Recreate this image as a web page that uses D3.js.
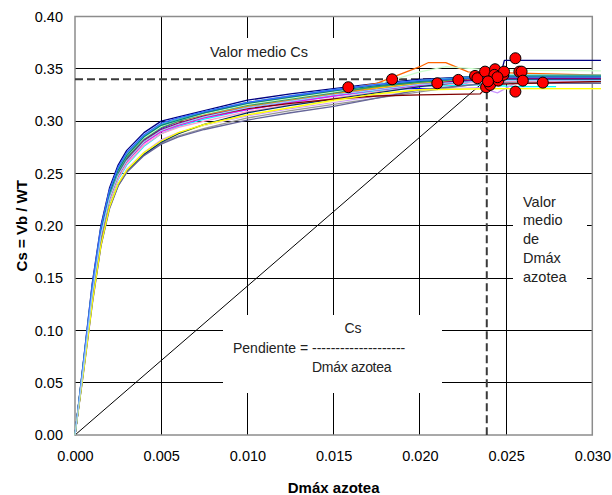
<!DOCTYPE html>
<html>
<head>
<meta charset="utf-8">
<script src="https://cdn.jsdelivr.net/npm/d3@7"></script>
<style>
  html, body { margin: 0; padding: 0; background: #fff; }
  svg { display: block; font-family: Arial, "Liberation Sans", sans-serif; }
</style>
</head>
<body>
<svg id="chart" width="612" height="495"></svg>
<script>
// ---------------- DATA ----------------
const xTicks = [0, 0.005, 0.010, 0.015, 0.020, 0.025, 0.030];
const yTicks = [0, 0.05, 0.10, 0.15, 0.20, 0.25, 0.30, 0.35, 0.40];

// shared Dmáx grid for the curve values
const dmaxGrid = [0, 0.0005, 0.001, 0.0015, 0.002, 0.0025, 0.003, 0.004, 0.005, 0.006, 0.0075, 0.010, 0.0125, 0.015, 0.0175, 0.020];

// Cs values of each curve on dmaxGrid, then its end points (tailD / tailC)
const curveColors = ["#000080","#0000FF","#FF6600","#FF9900","#FFCC00","#99CC00","#33CCCC","#00FFFF","#FF00FF","#FF99CC","#CC99FF","#FFFF99","#969696","#003366","#666699","#800000","#800080","#339966","#CCFFCC","#008080","#3366FF","#FFFF00","#99CCFF"];
const curveCs = [
  [0,.072,.145,.200,.236,.258,.272,.289,.300,.304,.310,.320,.326,.331,.336,.340],
  [0,.068,.138,.192,.228,.250,.264,.282,.293,.300,.307,.316,.322,.327,.331,.331],
  [0,.070,.140,.195,.232,.254,.268,.285,.296,.302,.308,.317,.323,.329,.336,.352],
  [0,.069,.139,.193,.230,.252,.266,.283,.294,.300,.306,.314,.320,.326,.332,.337],
  [0,.066,.135,.190,.226,.248,.262,.280,.291,.298,.305,.313,.319,.325,.331,.336],
  [0,.067,.136,.190,.227,.250,.265,.284,.295,.301,.308,.316,.322,.328,.333,.338],
  [0,.071,.142,.197,.233,.255,.269,.286,.297,.302,.309,.318,.324,.330,.335,.339],
  [0,.064,.130,.185,.222,.244,.258,.276,.288,.295,.302,.311,.318,.324,.329,.333],
  [0,.066,.134,.188,.225,.247,.261,.279,.290,.296,.303,.311,.318,.324,.330,.334],
  [0,.065,.132,.186,.223,.245,.259,.277,.288,.294,.300,.309,.316,.322,.328,.333],
  [0,.060,.124,.180,.218,.240,.254,.270,.282,.289,.296,.305,.312,.318,.324,.330],
  [0,.062,.127,.182,.219,.240,.253,.269,.280,.288,.296,.306,.313,.319,.325,.330],
  [0,.061,.125,.180,.216,.238,.251,.268,.279,.286,.293,.303,.310,.316,.322,.328],
  [0,.063,.128,.182,.218,.239,.252,.268,.280,.288,.297,.308,.315,.321,.327,.333],
  [0,.062,.126,.181,.217,.238,.251,.267,.278,.285,.292,.301,.308,.314,.322,.330],
  [0,.066,.134,.189,.226,.248,.262,.280,.291,.297,.304,.312,.317,.321,.324,.325],
  [0,.068,.137,.191,.228,.250,.264,.282,.292,.298,.305,.313,.319,.325,.330,.335],
  [0,.067,.137,.192,.229,.251,.265,.283,.294,.300,.307,.315,.321,.327,.333,.337],
  [0,.069,.139,.194,.231,.253,.267,.284,.295,.301,.307,.316,.322,.328,.335,.347],
  [0,.070,.140,.195,.231,.253,.267,.285,.296,.301,.308,.317,.323,.329,.334,.338],
  [0,.071,.143,.198,.234,.256,.270,.287,.298,.303,.309,.318,.324,.330,.335,.339],
  [0,.061,.126,.181,.218,.240,.253,.270,.281,.289,.297,.306,.313,.320,.326,.330],
  [0,.066,.135,.190,.226,.248,.262,.280,.291,.297,.304,.313,.319,.325,.330,.335]
];
const curveTailD = [
  [0.0235,0.0247,0.0249,0.0305],
  [0.0215,0.0230,0.0305],
  [0.0205,0.0215,0.0228,0.0305],
  [0.0240,0.0305],
  [0.0235,0.0305],
  [0.0240,0.0305],
  [0.0245,0.0305],
  [0.0235,0.0255,0.0279],
  [0.0230,0.0305],
  [0.0240,0.0305],
  [0.0235,0.0245,0.0255,0.0305],
  [0.0240,0.0305],
  [0.0240,0.0305],
  [0.0238,0.0305],
  [0.0240,0.0305],
  [0.0235,0.0240,0.0305],
  [0.0240,0.0305],
  [0.0240,0.0305],
  [0.0215,0.0240,0.0305],
  [0.0245,0.0305],
  [0.0240,0.0305],
  [0.0245,0.0305],
  [0.0245,0.0305]
];
const curveTailC = [
  [0.343,0.345,0.358,0.358],
  [0.331,0.338,0.339],
  [0.356,0.356,0.347,0.344],
  [0.342,0.341],
  [0.340,0.340],
  [0.343,0.343],
  [0.344,0.344],
  [0.335,0.333,0.333],
  [0.339,0.339],
  [0.338,0.338],
  [0.332,0.327,0.336,0.336],
  [0.331,0.331],
  [0.337,0.337],
  [0.340,0.340],
  [0.336,0.336],
  [0.326,0.335,0.338],
  [0.341,0.341],
  [0.342,0.342],
  [0.352,0.349,0.348],
  [0.343,0.343],
  [0.342,0.342],
  [0.331,0.331],
  [0.339,0.339]
];

// red points: Dmáx and Cs of each record
const dotDmax = [0.01585,0.01839,0.02101,0.02223,0.02320,0.02334,0.02378,0.02384,0.02407,0.02436,0.02432,0.02455,0.02484,0.02488,0.02554,0.02554,0.02577,0.02590,0.02597,0.02713,0.02450,0.02395];
const dotCs   = [0.3324,0.3400,0.3362,0.3394,0.3432,0.3410,0.3473,0.3324,0.3346,0.3496,0.3442,0.3387,0.3442,0.3473,0.3601,0.3282,0.3473,0.3473,0.3387,0.3368,0.3420,0.3380];

// mean values
const meanCs = 0.340;
const meanDmax = 0.02388;

// ---------------- CHART ----------------
const svg = d3.select("#chart");
const x = d3.scaleLinear().domain([0, 0.03]).range([75, 592.3]);
const y = d3.scaleLinear().domain([0, 0.40]).range([435, 16.5]);

// gridlines
const grid = svg.append("g");
grid.selectAll("line.h").data(yTicks.filter(v => v > 0 && v < 0.40)).enter().append("line")
  .attr("x1", x(0)).attr("x2", x(0.03))
  .attr("y1", d => y(d)).attr("y2", d => y(d))
  .attr("stroke", "#000").attr("stroke-width", 1).attr("shape-rendering", "crispEdges");
grid.selectAll("line.v").data(xTicks.filter(v => v > 0 && v < 0.03)).enter().append("line")
  .attr("y1", y(0)).attr("y2", y(0.40))
  .attr("x1", d => x(d)).attr("x2", d => x(d))
  .attr("stroke", "#000").attr("stroke-width", 1).attr("shape-rendering", "crispEdges");

// plot frame
svg.append("rect")
  .attr("x", x(0)).attr("y", y(0.40))
  .attr("width", x(0.03) - x(0)).attr("height", y(0) - y(0.40))
  .attr("fill", "none").attr("stroke", "#8c8c8c").attr("stroke-width", 1.5);

// text boxes (white background)
function box(x0, y0, w, h) {
  svg.append("rect").attr("x", x0).attr("y", y0).attr("width", w).attr("height", h).attr("fill", "#fff");
}
box(180, 38, 160, 30);
box(223, 315, 219, 78);
box(513, 186, 74, 110);

// dashed mean lines
svg.append("line")
  .attr("x1", x(0)).attr("x2", x(meanDmax))
  .attr("y1", y(meanCs)).attr("y2", y(meanCs))
  .attr("stroke", "#3a3a3a").attr("stroke-width", 2).attr("stroke-dasharray", "8,4");
svg.append("line")
  .attr("x1", x(meanDmax)).attr("x2", x(meanDmax))
  .attr("y1", y(meanCs)).attr("y2", y(0))
  .attr("stroke", "#3a3a3a").attr("stroke-width", 2).attr("stroke-dasharray", "8,4");

// diagonal (slope) line
svg.append("line")
  .attr("x1", x(0)).attr("y1", y(0))
  .attr("x2", x(meanDmax)).attr("y2", y(meanCs))
  .attr("stroke", "#000").attr("stroke-width", 1);

// curves
const line = d3.line().x(d => x(d[0])).y(d => y(d[1]));
const curves = curveCs.map((cs, i) => {
  const pts = cs.map((c, j) => [dmaxGrid[j], c]);
  curveTailD[i].forEach((d, j) => pts.push([d, curveTailC[i][j]]));
  return { color: curveColors[i], pts };
});
// draw light colours first, dark ones on top
svg.append("g").selectAll("path").data(curves).enter().append("path")
  .attr("d", d => line(d.pts))
  .attr("fill", "none")
  .attr("stroke", d => d.color)
  .attr("stroke-width", 1.3)
  .attr("stroke-linejoin", "round");

// red points
svg.append("g").selectAll("circle").data(dotDmax.map((d, i) => [d, dotCs[i]])).enter().append("circle")
  .attr("cx", d => x(d[0])).attr("cy", d => y(d[1]))
  .attr("r", 5.5)
  .attr("fill", "#FF0000").attr("stroke", "#000").attr("stroke-width", 1);

// axes (labels only)
const xAxis = d3.axisBottom(x).tickValues(xTicks).tickFormat(d3.format(".3f")).tickSize(0).tickPadding(16);
const gx = svg.append("g").attr("transform", `translate(0,${y(0)})`).call(xAxis);
gx.select(".domain").remove();
gx.selectAll("text").attr("font-size", "14.5px").attr("fill", "#000").attr("font-family", "Arial, 'Liberation Sans', sans-serif");

const yAxis = d3.axisLeft(y).tickValues(yTicks).tickFormat(d3.format(".2f")).tickSize(0).tickPadding(12);
const gy = svg.append("g").attr("transform", `translate(${x(0)},0)`).call(yAxis);
gy.select(".domain").remove();
gy.selectAll("text").attr("font-size", "14.5px").attr("fill", "#000").attr("font-family", "Arial, 'Liberation Sans', sans-serif");

// axis titles
svg.append("text").attr("x", (x(0) + x(0.03)) / 2).attr("y", 493)
  .attr("text-anchor", "middle").attr("font-weight", "bold").attr("font-size", "15px")
  .text("Dmáx azotea");
svg.append("text").attr("transform", `translate(27,${(y(0) + y(0.40)) / 2}) rotate(-90)`)
  .attr("text-anchor", "middle").attr("font-weight", "bold").attr("font-size", "15px")
  .text("Cs = Vb / WT");

// annotations
svg.append("text").attr("x", 210).attr("y", 57).attr("font-size", "14.5px").attr("fill", "#222").text("Valor medio Cs");

svg.append("text").attr("x", 353).attr("y", 333).attr("text-anchor", "middle").attr("font-size", "14px").attr("fill", "#222").text("Cs");
svg.append("text").attr("x", 233).attr("y", 353).attr("font-size", "14px").attr("fill", "#222").text("Pendiente = --------------------");
svg.append("text").attr("x", 312).attr("y", 372).attr("font-size", "14px").attr("fill", "#222").attr("letter-spacing", "-0.3").text("Dmáx azotea");

const rightLines = ["Valor", "medio", "de", "Dmáx", "azotea"];
svg.append("g").selectAll("text").data(rightLines).enter().append("text")
  .attr("x", 523).attr("y", (d, i) => 206.5 + i * 18.8)
  .attr("font-size", "14.5px").attr("fill", "#222")
  .text(d => d);
</script>
</body>
</html>
